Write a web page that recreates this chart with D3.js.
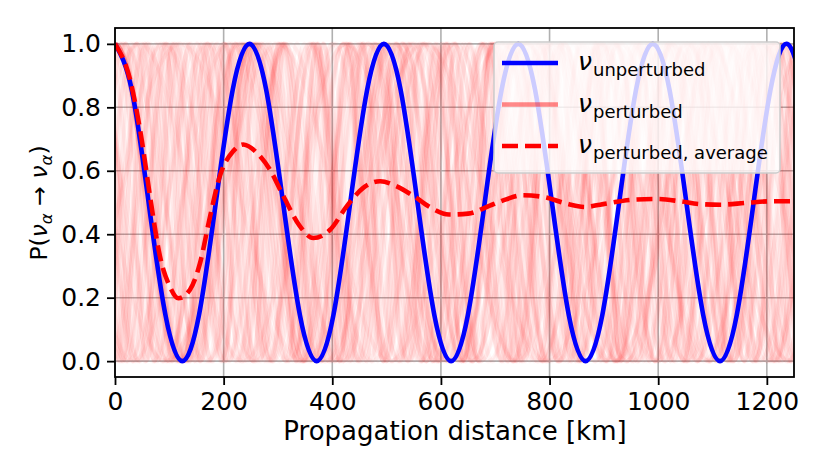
<!DOCTYPE html>
<html>
<head>
<meta charset="utf-8">
<script src="https://cdn.jsdelivr.net/npm/d3@7"></script>
<style>
  body { margin: 0; background: #fff; }
  text { font-family: "DejaVu Sans", sans-serif; fill: #000; }
</style>
</head>
<body>
<svg id="main_chart" width="830" height="475"></svg>
<script>
// tick labels
const xTicks = [0, 200, 400, 600, 800, 1000, 1200];
const yTicks = [0, 0.2, 0.4, 0.6, 0.8, 1.0];

// unperturbed oscillation
const unperturbedKm = [0, 30.94, 61.88, 92.81, 123.75, 154.69, 185.63, 216.56, 247.5, 278.44,
  309.38, 340.31, 371.25, 402.19, 433.13, 464.06, 495, 525.94, 556.88, 587.81,
  618.75, 649.69, 680.63, 711.56, 742.5, 773.44, 804.38, 835.31, 866.25, 897.19,
  928.13, 959.06, 990, 1020.94, 1051.88, 1082.81, 1113.75, 1144.69, 1175.63, 1206.56,
  1237.5, 1268.44];
const unperturbedP = [1, 0.854, 0.5, 0.146, 0, 0.146, 0.5, 0.854, 1, 0.854,
  0.5, 0.146, 0, 0.146, 0.5, 0.854, 1, 0.854, 0.5, 0.146,
  0, 0.146, 0.5, 0.854, 1, 0.854, 0.5, 0.146, 0, 0.146,
  0.5, 0.854, 1, 0.854, 0.5, 0.146, 0, 0.146, 0.5, 0.854,
  1, 0.854];

// average of the perturbed curves (red dashes)
const averageKm = [0, 27.6, 49, 64.4, 82.8, 101, 116.6, 138, 156.5, 175, 193, 217.8, 236, 261, 285,
  310, 340.6, 365, 396, 426.5, 457, 488, 518.6, 550, 580, 615, 650, 690, 720, 750,
  790, 830, 865, 893, 954, 997, 1040, 1077, 1114, 1163, 1212, 1250];
const averageP = [1, 0.888, 0.699, 0.52, 0.33, 0.235, 0.198, 0.225, 0.309, 0.456, 0.583, 0.662, 0.683, 0.657, 0.604,
  0.52, 0.425, 0.388, 0.414, 0.488, 0.546, 0.567, 0.551, 0.52, 0.485, 0.462, 0.465, 0.49, 0.51, 0.523,
  0.517, 0.497, 0.486, 0.493, 0.509, 0.511, 0.504, 0.495, 0.493, 0.499, 0.504, 0.504];

// faint perturbed curves: oscillation length (km) and position of one peak (km)
const perturbedLengths = [450, 412.5, 380.8, 353.6, 334.5, 317.3, 305.6, 294.6, 284.5, 275,
  269, 263.3, 257.8, 252.6, 247.5, 242.6, 238, 233.5, 229.2, 225,
  221, 217.1, 213.4, 209.7, 206.3, 201.2, 196.4, 191.9, 187.5, 183.3,
  179.3, 174.3, 169.5, 165, 159.7, 154.7, 150, 145.6, 140.6, 136,
  131.6, 126.9, 122.5, 117.9, 112.5, 107.6, 103.1, 97.1, 91.7, 85.3,
  79.8, 72.8, 65.1];
const perturbedPeakKm = [120, 300, 45, 210, 90, 260, 15, 170, 230, 0,
  0, 0, 0, 0, 0, 0, 0, 0, 0, 0,
  180, 95, 40, 150, 200, 20, 110, 60, 170, 130,
  10, 85, 140, 35, 100, 55, 120, 15, 80, 110,
  40, 95, 65, 20, 90, 50, 75, 10, 60, 30,
  55, 20, 40];
// shape of one oscillation, same as the blue curve
const cyclePhase = [0, 0.125, 0.25, 0.375, 0.5, 0.625, 0.75, 0.875];
const cycleP = [1, 0.854, 0.5, 0.146, 0, 0.146, 0.5, 0.854];

const legendLabels = ['unperturbed', 'perturbed', 'perturbed, average'];

const svg = d3.select('#main_chart');
const x = d3.scaleLinear().domain([0, 1250]).range([115, 794]);
const y = d3.scaleLinear().domain([-0.05, 1.05]).range([377, 28]);

svg.append('defs').append('clipPath').attr('id', 'plot_clip')
  .append('rect').attr('x', 115).attr('y', 28).attr('width', 679).attr('height', 349);

// grid
const grid = svg.append('g').attr('stroke', '#b0b0b0').attr('stroke-width', 1.6);
grid.selectAll('line.gx').data(xTicks).enter().append('line')
  .attr('x1', d => x(d)).attr('x2', d => x(d)).attr('y1', 28).attr('y2', 377);
grid.selectAll('line.gy').data(yTicks).enter().append('line')
  .attr('y1', d => y(d)).attr('y2', d => y(d)).attr('x1', 115).attr('x2', 794);

const plot = svg.append('g').attr('clip-path', 'url(#plot_clip)');

// faint perturbed curves
const smooth = d3.line().x(d => x(d[0])).y(d => y(d[1])).curve(d3.curveNatural);
const perturbedPoints = perturbedLengths.map(function(len, i) {
  const phaseScale = d3.scaleLinear().domain([0, 1]).range([perturbedPeakKm[i], perturbedPeakKm[i] + len]);
  const pts = [];
  for (let c = -1; phaseScale(c) <= 1250 + len; c++) {
    cyclePhase.forEach(function(ph, j) {
      pts.push([phaseScale(c + ph), cycleP[j]]);
    });
  }
  return pts;
});
plot.selectAll('path.perturbed').data(perturbedPoints).enter().append('path')
  .attr('class', 'perturbed')
  .attr('d', smooth)
  .attr('fill', 'none')
  .attr('stroke', '#ff0000')
  .attr('stroke-opacity', 0.045)
  .attr('stroke-width', 4.5);

// unperturbed
plot.append('path')
  .datum(unperturbedKm.map((d, i) => [d, unperturbedP[i]]))
  .attr('d', smooth)
  .attr('fill', 'none')
  .attr('stroke', '#0000ff')
  .attr('stroke-width', 4.6);

// average
const avgLine = d3.line().x(d => x(d[0])).y(d => y(d[1])).curve(d3.curveMonotoneX);
plot.append('path')
  .datum(averageKm.map((d, i) => [d, averageP[i]]))
  .attr('d', avgLine)
  .attr('fill', 'none')
  .attr('stroke', '#ff0000')
  .attr('stroke-width', 4.6)
  .attr('stroke-dasharray', '16 7');

// axes
const xAxis = svg.append('g').attr('transform', 'translate(0,377)')
  .call(d3.axisBottom(x).tickValues(xTicks).tickFormat(d3.format('d')).tickSize(8).tickPadding(7));
const yAxis = svg.append('g').attr('transform', 'translate(115,0)')
  .call(d3.axisLeft(y).tickValues(yTicks).tickFormat(d3.format('.1f')).tickSize(8).tickPadding(6));
[xAxis, yAxis].forEach(function(a) {
  a.select('.domain').remove();
  a.selectAll('line').attr('stroke', '#000').attr('stroke-width', 1.8);
  a.selectAll('text').attr('font-size', 25).attr('font-family', '"DejaVu Sans", sans-serif').attr('fill', '#000');
});

// frame
svg.append('rect').attr('x', 115).attr('y', 28).attr('width', 679).attr('height', 349)
  .attr('fill', 'none').attr('stroke', '#000').attr('stroke-width', 1.8);

// axis labels
svg.append('text').attr('x', 455).attr('y', 440).attr('text-anchor', 'middle')
  .attr('font-size', 26).text('Propagation distance [km]');
const yl = svg.append('text').attr('transform', 'translate(47,203) rotate(-90)')
  .attr('text-anchor', 'middle').attr('font-size', 23.5);
yl.append('tspan').text('P(');
yl.append('tspan').attr('font-style', 'italic').text('ν');
yl.append('tspan').attr('font-style', 'italic').attr('font-size', 16.5).attr('dy', 5).text('α');
yl.append('tspan').attr('dy', -5).text(' → ');
yl.append('tspan').attr('font-style', 'italic').text('ν');
yl.append('tspan').attr('font-style', 'italic').attr('font-size', 16.5).attr('dy', 5).text('α');
yl.append('tspan').attr('dy', -5).text(')');

// legend
const legend = svg.append('g');
legend.append('rect').attr('x', 494).attr('y', 42).attr('width', 286).attr('height', 131)
  .attr('rx', 4).attr('fill', '#fff').attr('fill-opacity', 0.8)
  .attr('stroke', '#cccccc').attr('stroke-width', 1.5);
const legendStyles = [
  { color: '#0000ff', opacity: 1, dash: null },
  { color: '#ff0000', opacity: 0.45, dash: null },
  { color: '#ff0000', opacity: 1, dash: '16 7' }
];
legendLabels.forEach(function(lab, i) {
  const ly = 63 + i * 41.5;
  legend.append('line').attr('x1', 502).attr('x2', 558).attr('y1', ly).attr('y2', ly)
    .attr('stroke', legendStyles[i].color).attr('stroke-opacity', legendStyles[i].opacity)
    .attr('stroke-width', 4.6).attr('stroke-dasharray', legendStyles[i].dash);
  const t = legend.append('text').attr('x', 578).attr('y', ly + 7);
  t.append('tspan').attr('font-style', 'italic').attr('font-size', 25).text('ν');
  t.append('tspan').attr('font-size', 18).attr('dx', 1).attr('dy', 6).text(lab);
});
</script>
</body>
</html>
